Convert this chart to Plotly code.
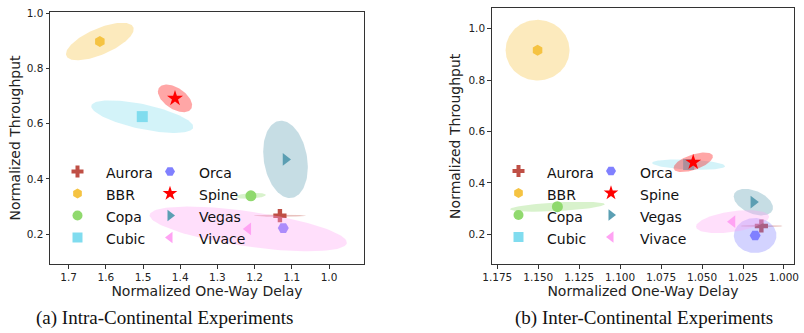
import numpy as np
import plotly.graph_objects as go

# ---------------- data ----------------
names = ["Aurora", "BBR", "Copa", "Cubic", "Orca", "Spine", "Vegas", "Vivace"]

# (a) intra-continental
intra_delay = [1.132, 1.616, 1.210, 1.502, 1.123, 1.414, 1.117, 1.217]
intra_tput = [0.267, 0.898, 0.339, 0.626, 0.222, 0.692, 0.471, 0.219]
intra_delay_spread = [0.070, 0.091, 0.040, 0.137, 0.003, 0.046, 0.060, 0.265]
intra_tput_spread = [0.004, 0.068, 0.011, 0.059, 0.003, 0.050, 0.140, 0.081]
intra_corr = [0.0, -0.66, -0.3, 0.63, 0.0, 0.5, 0.2, 0.61]

# (b) inter-continental
inter_delay = [1.0138, 1.1504, 1.1383, 1.0582, 1.0176, 1.0554, 1.0187, 1.0314]
inter_tput = [0.232, 0.916, 0.307, 0.471, 0.195, 0.480, 0.325, 0.249]
inter_delay_spread = [0.013, 0.0195, 0.0289, 0.0223, 0.013, 0.0120, 0.0120, 0.0223]
inter_tput_spread = [0.004, 0.118, 0.0195, 0.0202, 0.068, 0.0381, 0.0518, 0.0447]
inter_corr = [0.0, 0.0, -0.5, 0.3, 0.0, -0.58, 0.42, -0.43]

intra_xticks = [1.7, 1.6, 1.5, 1.4, 1.3, 1.2, 1.1, 1.0]
inter_xticks = [1.175, 1.150, 1.125, 1.100, 1.075, 1.050, 1.025, 1.000]
yticks = [0.2, 0.4, 0.6, 0.8, 1.0]

captions = ["(a) Intra-Continental Experiments", "(b) Inter-Continental Experiments"]

# ---------------- styles ----------------
W, H = 804, 333
colors = ["#BF4F45", "#F5C342", "#90D96E", "#80DCEF", "#8080FF", "#FF0000", "#5B9FB3", "#FFA3F3"]
symbols = ["cross", "hexagon", "circle", "square", "hexagon2", "star", "triangle-right", "triangle-left"]
sizes = [11, 11, 11, 11, 11, 12, 11, 11]
leg_sizes = [10, 10, 10, 10, 10, 11, 10, 10]
FONT = "DejaVu Sans"

# legend layout (pixel positions of first swatch of each panel's legend)
legend_origins = [(77.5, 171.5), (518.5, 171.0)]
LEG_COL_DX = 92.5
LEG_ROW_DY = 22.0
LEG_TEXT_DX = 26.5


def rgba(hexc, a):
    h = hexc.lstrip("#")
    r, g, b = int(h[0:2], 16), int(h[2:4], 16), int(h[4:6], 16)
    return f"rgba({r},{g},{b},{a})"


def ellipse(cx, cy, ex, ey, rho):
    t = np.linspace(0, 2 * np.pi, 120)
    x = cx + ex * np.cos(t)
    y = cy + ey * (rho * np.cos(t) + np.sqrt(1 - rho ** 2) * np.sin(t))
    return x, y


fig = go.Figure()

panels = [
    (intra_delay, intra_tput, intra_delay_spread, intra_tput_spread, intra_corr, "x", "y"),
    (inter_delay, inter_tput, inter_delay_spread, inter_tput_spread, inter_corr, "x2", "y2"),
]

for dx, ty, sx, sy, rc, xa, ya in panels:
    for i in range(len(names)):
        fig.add_trace(go.Scatter(
            x=[dx[i]], y=[ty[i]], mode="markers", name=names[i],
            marker=dict(symbol=symbols[i], size=sizes[i], color=colors[i], line=dict(width=0)),
            xaxis=xa, yaxis=ya, showlegend=False,
        ))
        ex, ey = ellipse(dx[i], ty[i], sx[i], sy[i], rc[i])
        fig.add_trace(go.Scatter(
            x=ex, y=ey, mode="lines", fill="toself",
            fillcolor=rgba(colors[i], 0.35), line=dict(width=0),
            hoverinfo="skip", showlegend=False, xaxis=xa, yaxis=ya,
        ))

# ---- manual two-column legends on a pixel overlay axis ----
for (ox, oy) in legend_origins:
    for i in range(len(names)):
        col, row = divmod(i, 4)
        mx = ox + col * LEG_COL_DX
        my = oy + row * LEG_ROW_DY
        fig.add_trace(go.Scatter(
            x=[mx], y=[my], mode="markers",
            marker=dict(symbol=symbols[i], size=leg_sizes[i], color=colors[i], line=dict(width=0)),
            xaxis="x3", yaxis="y3", showlegend=False, hoverinfo="skip",
        ))
        fig.add_annotation(text=names[i], x=mx + LEG_TEXT_DX, y=my + 1.5, xref="x3", yref="y3",
                           showarrow=False, xanchor="left", yanchor="middle",
                           font=dict(family=FONT, size=14, color="#111"))

axis_common = dict(
    showline=True, linecolor="#333", linewidth=1, mirror=True,
    ticks="outside", ticklen=3.5, tickwidth=1, tickcolor="#333",
    showgrid=False, zeroline=False, automargin=False,
    tickfont=dict(family=FONT, size=10.5, color="#222"),
    title_font=dict(family=FONT, size=14, color="#222"),
)

fig.update_layout(
    width=W, height=H,
    margin=dict(l=0, r=0, t=0, b=0, autoexpand=False),
    paper_bgcolor="white", plot_bgcolor="rgba(0,0,0,0)",
    showlegend=False,
    xaxis=dict(domain=[50 / W, 364 / W], anchor="y", range=[1.75, 0.906],
               tickvals=intra_xticks, ticktext=[f"{v:.1f}" for v in intra_xticks],
               title=dict(text="Normalized One-Way Delay", standoff=2), **axis_common),
    yaxis=dict(domain=[(H - 264) / H, (H - 12) / H], anchor="x", range=[0.092, 1.005],
               tickvals=yticks, ticktext=[f"{v:.1f}" for v in yticks],
               title=dict(text="Normalized Throughput", standoff=2), **axis_common),
    xaxis2=dict(domain=[491.7 / W, 794.3 / W], anchor="y2", range=[1.1784, 0.9937],
                tickvals=inter_xticks, ticktext=[f"{v:.3f}" for v in inter_xticks],
                title=dict(text="Normalized One-Way Delay", standoff=2), **axis_common),
    yaxis2=dict(domain=[(H - 264.3) / H, (H - 8.3) / H], anchor="x2", range=[0.083, 1.079],
                tickvals=yticks, ticktext=[f"{v:.1f}" for v in yticks],
                title=dict(text="Normalized Throughput", standoff=4), **axis_common),
    xaxis3=dict(domain=[0, 1], range=[0, W], visible=False, fixedrange=True),
    yaxis3=dict(domain=[0, 1], range=[H, 0], visible=False, fixedrange=True, anchor="x3"),
)

fig.add_annotation(text=captions[0], x=164 / W, y=(H - 318) / H, xref="paper", yref="paper",
                   showarrow=False, font=dict(family="Liberation Serif", size=19, color="#111"),
                   xanchor="center", yanchor="middle")
fig.add_annotation(text=captions[1], x=644 / W, y=(H - 318) / H, xref="paper", yref="paper",
                   showarrow=False, font=dict(family="Liberation Serif", size=19, color="#111"),
                   xanchor="center", yanchor="middle")

fig.write_html("out.html", config={"displayModeBar": False},
               post_script="document.body.style.margin='0px';document.body.style.overflow='hidden';")
